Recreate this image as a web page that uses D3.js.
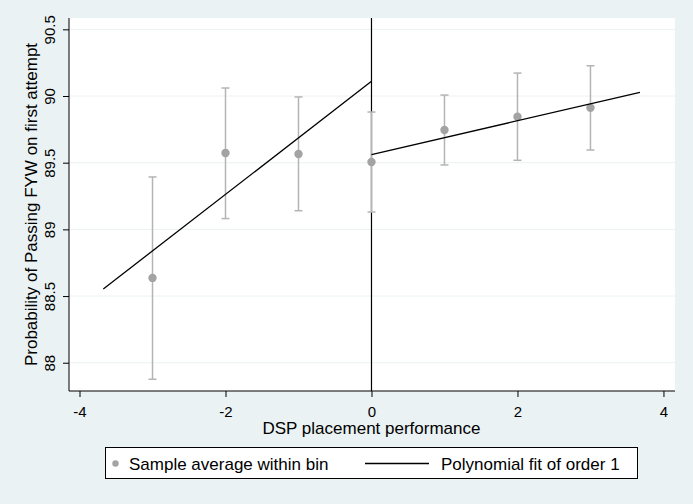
<!DOCTYPE html>
<html>
<head>
<meta charset="utf-8">
<script src="https://cdn.jsdelivr.net/npm/d3@7"></script>
<style>
  body { margin: 0; background: #eaf2f3; }
  text { font-family: "Liberation Sans", Arial, sans-serif; fill: #000; }
</style>
</head>
<body>
<div id="chart"></div>
<script>
// binned sample averages with confidence intervals
var bins = [-3, -2, -1, 0, 1, 2, 3];
var means = [88.636, 89.573, 89.565, 89.505, 89.745, 89.845, 89.912];
var ciLow = [87.876, 89.081, 89.140, 89.130, 89.483, 89.518, 89.595];
var ciHigh = [89.393, 90.060, 89.993, 89.880, 90.007, 90.172, 90.227];

// linear fits on each side of the cutoff
var fitLeftX = [-3.674, 0];
var fitLeftY = [88.553, 90.110];
var fitRightX = [0, 3.678];
var fitRightY = [89.560, 90.028];

var xTicks = [-4, -2, 0, 2, 4];
var yTicks = [88, 88.5, 89, 89.5, 90, 90.5];

var width = 693, height = 504;
var plot = { left: 69, right: 675, top: 18, bottom: 391 };

var svg = d3.select("#chart").append("svg")
    .attr("width", width)
    .attr("height", height);

svg.append("rect").attr("width", width).attr("height", height).attr("fill", "#eaf2f3");
svg.append("rect")
    .attr("x", plot.left).attr("y", plot.top)
    .attr("width", plot.right - plot.left).attr("height", plot.bottom - plot.top)
    .attr("fill", "#fff");

var x = d3.scaleLinear().domain([-4.144, 4.158]).range([plot.left, plot.right]);
var y = d3.scaleLinear().domain([87.788, 90.585]).range([plot.bottom, plot.top]);

// gridlines
svg.append("g").selectAll("line").data(yTicks).join("line")
    .attr("x1", plot.left).attr("x2", plot.right)
    .attr("y1", d => y(d)).attr("y2", d => y(d))
    .attr("stroke", "#eaf2f3").attr("stroke-width", 1);

// y axis
var yAxis = svg.append("g")
    .attr("transform", "translate(" + plot.left + ",0)")
    .call(d3.axisLeft(y).tickValues(yTicks).tickSize(6).tickFormat(d3.format("")));
yAxis.select(".domain").attr("d", "M0," + plot.top + "V" + plot.bottom).attr("stroke", "#000");
yAxis.selectAll(".tick line").attr("stroke", "#000");
yAxis.selectAll(".tick text")
    .attr("font-size", 15)
    .attr("x", null).attr("dy", null)
    .attr("text-anchor", "middle")
    .attr("transform", "translate(-14,0) rotate(-90)");

// x axis
var xAxis = svg.append("g")
    .attr("transform", "translate(0," + plot.bottom + ")")
    .call(d3.axisBottom(x).tickValues(xTicks).tickSize(6).tickFormat(d3.format("")));
xAxis.select(".domain").attr("d", "M" + plot.left + ",0H" + plot.right).attr("stroke", "#000");
xAxis.selectAll(".tick line").attr("stroke", "#000");
xAxis.selectAll(".tick text").attr("font-size", 15).attr("y", 26).attr("dy", null)
    .text(d => d < 0 ? "-" + Math.abs(d) : d);

// axis titles
svg.append("text")
    .attr("x", x(0)).attr("y", 434)
    .attr("text-anchor", "middle").attr("font-size", 17)
    .text("DSP placement performance");
svg.append("text")
    .attr("transform", "translate(36.5," + ((plot.top + plot.bottom) / 2) + ") rotate(-90)")
    .attr("text-anchor", "middle").attr("font-size", 17)
    .text("Probability of Passing FYW on first attempt");

// cutoff line
svg.append("line")
    .attr("x1", x(0)).attr("x2", x(0))
    .attr("y1", plot.top).attr("y2", plot.bottom)
    .attr("stroke", "#000").attr("stroke-width", 1.2);

// error bars
var eb = svg.append("g").attr("stroke", "#b4b4b4").attr("stroke-width", 1.5);
bins.forEach(function(b, i) {
    eb.append("line").attr("x1", x(b)).attr("x2", x(b)).attr("y1", y(ciLow[i])).attr("y2", y(ciHigh[i]));
    eb.append("line").attr("x1", x(b) - 4).attr("x2", x(b) + 4).attr("y1", y(ciLow[i])).attr("y2", y(ciLow[i]));
    eb.append("line").attr("x1", x(b) - 4).attr("x2", x(b) + 4).attr("y1", y(ciHigh[i])).attr("y2", y(ciHigh[i]));
});

// points
svg.append("g").selectAll("circle").data(bins).join("circle")
    .attr("cx", d => x(d)).attr("cy", (d, i) => y(means[i]))
    .attr("r", 4.2).attr("fill", "#a3a3a3");

// fit lines
var line = d3.line().x(d => x(d[0])).y(d => y(d[1]));
svg.append("path").datum(d3.zip(fitLeftX, fitLeftY)).attr("d", line)
    .attr("fill", "none").attr("stroke", "#000").attr("stroke-width", 1.3);
svg.append("path").datum(d3.zip(fitRightX, fitRightY)).attr("d", line)
    .attr("fill", "none").attr("stroke", "#000").attr("stroke-width", 1.3);

// legend
var lg = svg.append("g");
lg.append("rect").attr("x", 105.5).attr("y", 447.5).attr("width", 532).attr("height", 31)
    .attr("fill", "#fff").attr("stroke", "#000").attr("stroke-width", 1);
lg.append("circle").attr("cx", 115.5).attr("cy", 463.5).attr("r", 3.2).attr("fill", "#a3a3a3");
lg.append("text").attr("x", 129).attr("y", 470).attr("font-size", 17).text("Sample average within bin");
lg.append("line").attr("x1", 365).attr("x2", 429).attr("y1", 463.5).attr("y2", 463.5)
    .attr("stroke", "#000").attr("stroke-width", 1.3);
lg.append("text").attr("x", 441).attr("y", 470).attr("font-size", 17).text("Polynomial fit of order 1");
</script>
</body>
</html>
